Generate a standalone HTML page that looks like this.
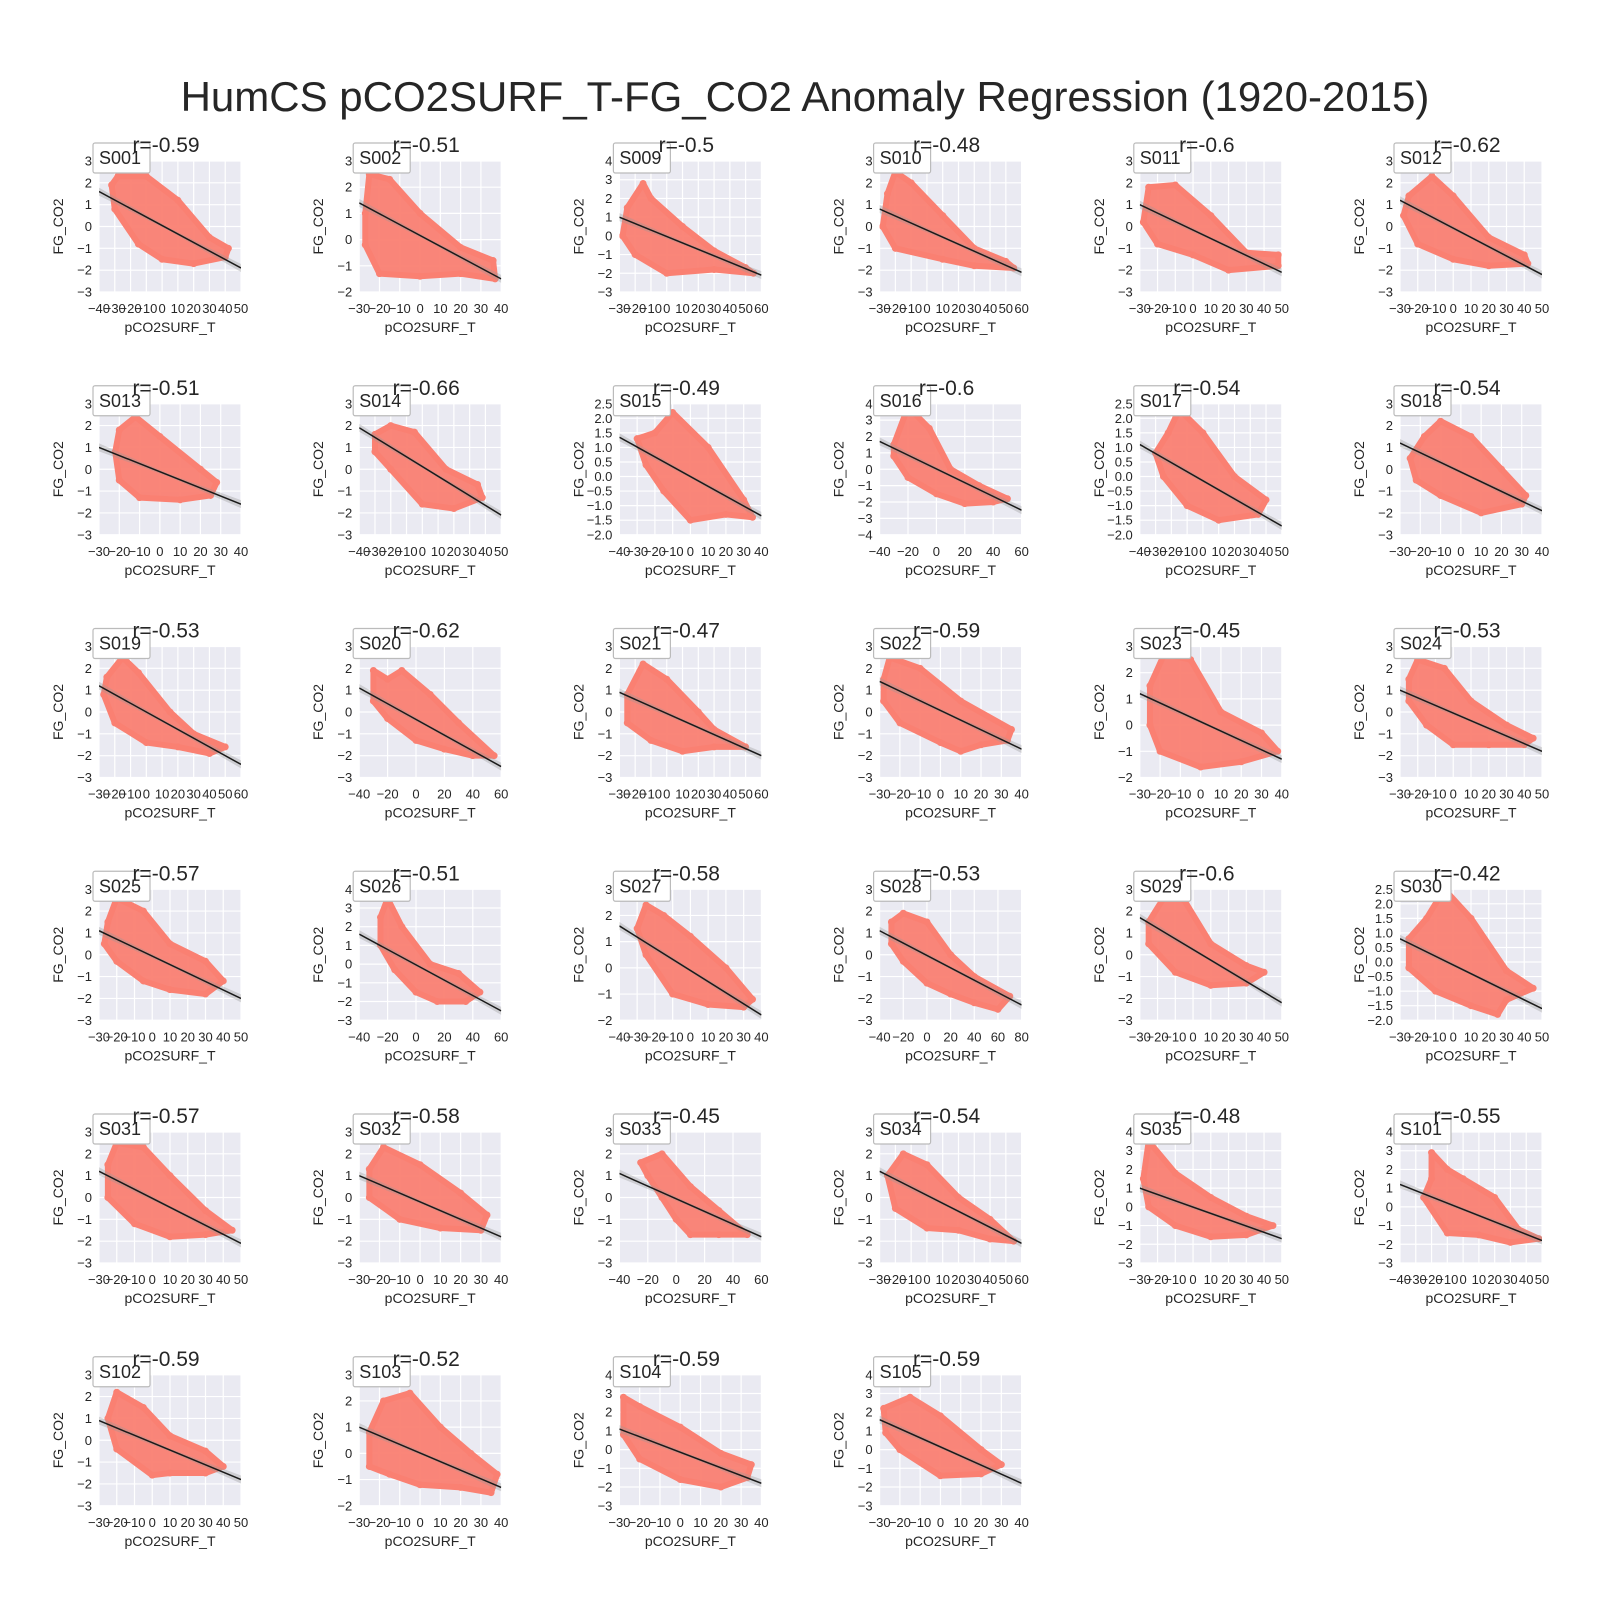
<!DOCTYPE html>
<html><head><meta charset="utf-8"><style>
html,body{margin:0;padding:0;background:#fff;}
svg{display:block;font-family:"Liberation Sans",Arial,sans-serif;}
</style></head><body>
<svg id="chart" width="1600" height="1600" viewBox="0 0 1600 1600" xmlns="http://www.w3.org/2000/svg">
<rect width="1600" height="1600" fill="#fff"/>
<text x="805" y="111" font-size="42" fill="#262626" text-anchor="middle">HumCS pCO2SURF_T-FG_CO2 Anomaly Regression (1920-2015)</text>
<g id="panels"></g>
</svg>
<script>
const siteNames = ["S001","S002","S009","S010","S011","S012","S013","S014","S015","S016","S017","S018","S019","S020","S021","S022","S023","S024","S025","S026","S027","S028","S029","S030","S031","S032","S033","S034","S035","S101","S102","S103","S104","S105"];
const rValues = [-0.59,-0.51,-0.5,-0.48,-0.6,-0.62,-0.51,-0.66,-0.49,-0.6,-0.54,-0.54,-0.53,-0.62,-0.47,-0.59,-0.45,-0.53,-0.57,-0.51,-0.58,-0.53,-0.6,-0.42,-0.57,-0.58,-0.45,-0.54,-0.48,-0.55,-0.59,-0.52,-0.59,-0.59];
const xTickSets = [
[-40,50,10],[-30,40,10],[-30,60,10],[-30,60,10],[-30,50,10],[-30,50,10],
[-30,40,10],[-40,50,10],[-40,40,10],[-40,60,20],[-40,50,10],[-30,40,10],
[-30,60,10],[-40,60,20],[-30,60,10],[-30,40,10],[-30,40,10],[-30,50,10],
[-30,50,10],[-40,60,20],[-40,40,10],[-40,80,20],[-30,50,10],[-30,50,10],
[-30,50,10],[-30,40,10],[-40,60,20],[-30,60,10],[-30,50,10],[-40,50,10],
[-30,50,10],[-30,40,10],[-30,40,10],[-30,40,10]];
const yTickSets = [
[-3,3,1],[-2,3,1],[-3,4,1],[-3,3,1],[-3,3,1],[-3,3,1],
[-3,3,1],[-3,3,1],[-2,2.5,0.5],[-4,4,1],[-2,2.5,0.5],[-3,3,1],
[-3,3,1],[-3,3,1],[-3,3,1],[-3,3,1],[-2,3,1],[-3,3,1],
[-3,3,1],[-3,4,1],[-2,3,1],[-3,3,1],[-3,3,1],[-2,2.5,0.5],
[-3,3,1],[-3,3,1],[-3,3,1],[-3,3,1],[-3,4,1],[-3,4,1],
[-3,3,1],[-2,3,1],[-3,4,1],[-3,4,1]];
// regression line: y at xmin, y at xmax
const lineEnds = [
[1.6,-1.9],[1.4,-1.5],[1.0,-2.1],[0.8,-2.1],[1.0,-2.1],[1.2,-2.2],
[1.0,-1.6],[1.9,-2.1],[1.35,-1.35],[1.7,-2.5],[1.1,-1.7],[1.2,-1.9],
[1.2,-2.4],[1.1,-2.5],[0.9,-2.0],[1.4,-1.7],[1.2,-1.3],[1.0,-1.8],
[1.1,-2.0],[1.6,-2.5],[1.6,-1.8],[1.1,-2.3],[1.7,-2.2],[0.8,-1.6],
[1.2,-2.1],[1.0,-1.8],[1.1,-1.8],[1.2,-2.1],[1.0,-1.7],[1.2,-1.8],
[0.9,-1.8],[1.0,-1.3],[1.1,-1.8],[1.6,-1.8]];
// outline of the scatter cloud, [x,y] pairs
const cloudOutlines = [
[[-28,2.3],[-10,2.3],[10,1.2],[30,-0.5],[42,-1],[40,-1.4],[20,-1.7],[0,-1.5],[-15,-0.8],[-30,0.8],[-32,1.9]],
[[-25,2.5],[-15,2.3],[0,1],[20,-0.3],[36,-0.8],[37,-1.5],[20,-1.3],[0,-1.4],[-20,-1.3],[-27,-0.2],[-27,1]],
[[-25,1.5],[-15,2.8],[-10,2],[10,0.5],[30,-0.8],[50,-1.7],[55,-2],[30,-1.8],[0,-2],[-20,-1],[-28,0]],
[[-25,1.5],[-20,2.5],[-10,2],[10,0.5],[30,-1],[50,-1.6],[55,-1.9],[30,-1.8],[10,-1.5],[-20,-1],[-28,0]],
[[-25,1.8],[-10,1.9],[10,0.5],[30,-1.2],[48,-1.3],[48,-1.8],[20,-2],[0,-1.3],[-20,-0.8],[-28,0.2]],
[[-25,1.4],[-12,2.3],[0,1.4],[20,-0.5],[40,-1.3],[42,-1.7],[20,-1.8],[0,-1.5],[-20,-0.8],[-28,0.5]],
[[-20,1.8],[-12,2.4],[0,1.5],[20,0],[28,-0.6],[25,-1.2],[10,-1.4],[-10,-1.3],[-20,-0.5],[-22,0.8]],
[[-30,1.6],[-20,2],[-5,1.7],[15,0],[35,-0.7],[38,-1.3],[20,-1.8],[0,-1.6],[-20,0],[-30,0.8]],
[[-30,1.3],[-20,1.5],[-10,2.2],[10,1],[30,-0.8],[35,-1.4],[20,-1.3],[0,-1.5],[-15,-0.5],[-25,0.4]],
[[-30,1.5],[-20,3.8],[-5,2.5],[10,0],[30,-1],[50,-1.8],[40,-2],[20,-2.1],[0,-1.5],[-20,-0.5],[-30,0.8]],
[[-30,0.8],[-22,1.5],[-15,2.3],[0,1.5],[20,0],[40,-0.8],[35,-1.3],[10,-1.5],[-10,-1],[-25,0]],
[[-25,0.5],[-18,1.5],[-10,2.2],[5,1.5],[20,0],[32,-1.2],[30,-1.6],[10,-2],[-10,-1.2],[-22,-0.5]],
[[-25,1.6],[-15,2.5],[-5,1.8],[15,0],[30,-1],[50,-1.6],[40,-1.9],[20,-1.6],[0,-1.4],[-20,-0.5],[-27,0.8]],
[[-30,1.9],[-20,1.5],[-10,1.9],[10,0.8],[30,-0.5],[55,-2],[40,-2],[20,-1.7],[0,-1.3],[-20,-0.3],[-30,0.5]],
[[-25,0.8],[-15,2.2],[0,1.5],[20,0],[30,-0.8],[50,-1.6],[30,-1.6],[10,-1.8],[-10,-1.3],[-25,-0.5]],
[[-28,1.5],[-25,2.5],[-10,2],[10,0.5],[35,-0.8],[33,-1.3],[20,-1.5],[10,-1.8],[0,-1.4],[-20,-0.5],[-28,0.5]],
[[-25,1.5],[-18,2.7],[-5,2.5],[10,0.5],[30,-0.3],[38,-1],[20,-1.4],[0,-1.6],[-20,-1],[-25,0]],
[[-25,1.5],[-20,2.4],[-5,2],[10,0.5],[30,-0.6],[45,-1.2],[40,-1.5],[20,-1.5],[0,-1.5],[-15,-0.6],[-25,0.5]],
[[-25,1.5],[-20,2.6],[-5,2],[10,0.5],[30,-0.3],[40,-1.2],[30,-1.8],[10,-1.6],[-5,-1.2],[-20,-0.3],[-27,0.5]],
[[-25,2.5],[-20,3.5],[-10,2],[10,0],[30,-0.5],[45,-1.5],[35,-2],[15,-2],[0,-1.5],[-15,-0.3],[-25,1]],
[[-30,1.5],[-25,2.4],[-15,2],[0,1.2],[20,0],[35,-1.2],[30,-1.5],[10,-1.4],[-10,-1],[-25,0.5]],
[[-30,1.5],[-20,1.9],[0,1.5],[20,0],[40,-1],[70,-1.9],[60,-2.5],[40,-2.2],[20,-1.8],[0,-1.3],[-20,-0.3],[-30,0.5]],
[[-25,1.5],[-15,2.8],[-5,2.5],[10,0.5],[30,-0.5],[40,-0.8],[30,-1.3],[10,-1.4],[-10,-0.8],[-25,0.5]],
[[-25,0.8],[-15,1.5],[-5,2.5],[10,1.5],[30,-0.3],[45,-0.9],[30,-1.3],[25,-1.8],[10,-1.5],[-10,-1],[-25,-0.2]],
[[-25,1.5],[-20,2.5],[-5,2.3],[10,1],[30,-0.6],[45,-1.5],[30,-1.7],[10,-1.8],[-10,-1.2],[-25,0]],
[[-25,1.3],[-18,2.3],[0,1.5],[20,0.2],[33,-0.8],[30,-1.5],[10,-1.4],[-10,-1],[-25,0]],
[[-25,1.6],[-10,2],[10,0.5],[30,-0.6],[50,-1.7],[30,-1.7],[10,-1.7],[0,-1],[-10,0],[-20,1]],
[[-25,1],[-15,2],[0,1.5],[20,0],[40,-1],[55,-2],[40,-1.9],[20,-1.5],[0,-1.4],[-20,-0.5]],
[[-28,1.5],[-25,3.5],[-10,1.8],[10,0.5],[30,-0.5],[45,-1],[30,-1.5],[10,-1.6],[-10,-1],[-25,0]],
[[-20,2.9],[-10,2],[0,1.5],[20,0.5],[35,-1.2],[48,-1.7],[30,-1.9],[10,-1.5],[-10,-1.4],[-25,0.5],[-20,1.5]],
[[-25,1],[-20,2.2],[-5,1.5],[10,0.2],[30,-0.5],[40,-1.2],[30,-1.5],[10,-1.5],[0,-1.6],[-20,-0.4]],
[[-25,0.8],[-18,2],[-5,2.3],[10,1],[25,0],[38,-0.8],[35,-1.5],[20,-1.3],[0,-1.2],[-15,-0.8],[-25,-0.5]],
[[-28,2.8],[-20,2.3],[0,1.2],[20,-0.2],[35,-0.8],[33,-1.5],[20,-2],[0,-1.6],[-20,-0.5],[-28,0.8]],
[[-28,2.2],[-15,2.8],[0,1.8],[20,0],[30,-0.8],[20,-1.3],[0,-1.4],[-20,0],[-27,0.9]]];

const NS = "http://www.w3.org/2000/svg";
const root = document.getElementById("panels");
function mk(tag, attrs, parent){const e=document.createElementNS(NS,tag);for(const k in attrs)e.setAttribute(k,attrs[k]);parent.appendChild(e);return e;}
function ticks(t){const a=[];for(let v=t[0];v<=t[1]+1e-9;v+=t[2])a.push(Math.round(v*100)/100);return a;}
function fmt(v,step){let s=step<1?v.toFixed(1):String(v);return s.replace("-","\u2212");}
const W=142,H=131;
siteNames.forEach((name,i)=>{
  const col=i%6,row=Math.floor(i/6);
  const L=99+col*260.2, T=161+row*242.75;
  const xt=ticks(xTickSets[i]), yt=ticks(yTickSets[i]);
  const x0=xt[0],x1=xt[xt.length-1],y0=yt[0],y1=yt[yt.length-1];
  const sx=v=>L+(v-x0)/(x1-x0)*W, sy=v=>T+H-(v-y0)/(y1-y0)*H;
  const g=mk("g",{},root);
  
  
  const clipId="clip"+i;
  const cp=mk("clipPath",{id:clipId},g);mk("rect",{x:L,y:T,width:W,height:H},cp);
  const bg=mk("rect",{x:L,y:T,width:W,height:H,fill:"#EAEAF2"},g);
  
  
  xt.forEach(v=>{mk("line",{x1:sx(v),x2:sx(v),y1:T,y2:T+H,stroke:"#fff","stroke-width":1.2},g);
    const t=mk("text",{x:sx(v),y:T+H+21,"font-size":13,fill:"#262626","text-anchor":"middle"},g);t.textContent=fmt(v,xTickSets[i][2]);
    
    });
  yt.forEach(v=>{mk("line",{x1:L,x2:L+W,y1:sy(v),y2:sy(v),stroke:"#fff","stroke-width":1.2},g);
    const t=mk("text",{x:L-7,y:sy(v)+4.5,"font-size":13,fill:"#262626","text-anchor":"end"},g);t.textContent=fmt(v,yTickSets[i][2]);
    
    });
  const cg=mk("g",{"clip-path":"url(#"+clipId+")"},g);
  const pts=cloudOutlines[i];
  const poly=mk("polygon",{points:pts.map(p=>sx(p[0])+","+sy(p[1])).join(" "),fill:"#FA8072","fill-opacity":0.95,stroke:"#FA8072","stroke-width":6,"stroke-linejoin":"round"},cg);
  
  
  pts.forEach(p=>{const c=mk("circle",{cx:sx(p[0]),cy:sy(p[1]),r:3.5,fill:"#FA8072"},cg);
    
    });
  const le=lineEnds[i];
  const band=mk("polygon",{points:[sx(x0)+","+(sy(le[0])-4),sx((x0+x1)/2)+","+(sy((le[0]+le[1])/2)-1.5),sx(x1)+","+(sy(le[1])-4),sx(x1)+","+(sy(le[1])+4),sx((x0+x1)/2)+","+(sy((le[0]+le[1])/2)+1.5),sx(x0)+","+(sy(le[0])+4)].join(" "),fill:"#999","fill-opacity":0.35},cg);
  
  
  const ln=mk("line",{x1:sx(x0),y1:sy(le[0]),x2:sx(x1),y2:sy(le[1]),stroke:"#1a1a1a","stroke-width":1.5},cg);
  
  
  const xl=mk("text",{x:L+W/2,y:T+H+40,"font-size":14,fill:"#262626","text-anchor":"middle"},g);xl.textContent="pCO2SURF_T";
  
  
  const yl=mk("text",{x:0,y:0,"font-size":14,fill:"#262626","text-anchor":"middle",transform:"translate("+(L-36)+","+(T+H/2)+") rotate(-90)"},g);yl.textContent="FG_CO2";
  
  
  const lg=mk("rect",{x:L-6,y:T-18,width:57,height:30,fill:"#fff",stroke:"#bbb","stroke-width":1.2,rx:2},g);
  
  
  const lt=mk("text",{x:L,y:T+3,"font-size":18,fill:"#262626"},g);lt.textContent=name;
  
  
  const tt=mk("text",{x:L+W/2-4,y:T-9,"font-size":21,fill:"#262626","text-anchor":"middle"},g);tt.textContent="r="+rValues[i];
  
  
});
</script>
</body></html>
